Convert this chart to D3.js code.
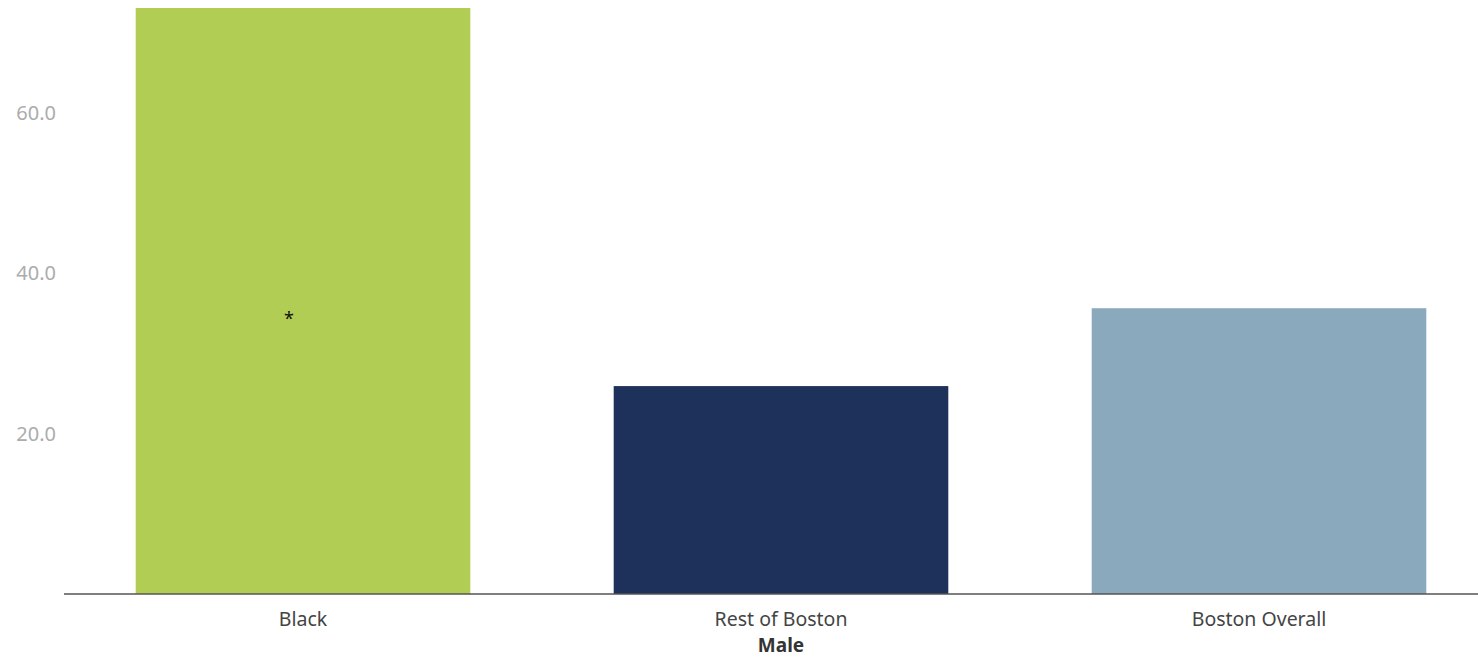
<!DOCTYPE html>
<html>
<head>
<meta charset="utf-8">
<script src="https://cdn.jsdelivr.net/npm/d3@7"></script>
<style>
  html, body { margin: 0; padding: 0; background: #fff; }
  svg { display: block; font-family: "Noto Sans", "Open Sans", sans-serif; }
</style>
</head>
<body>
<svg id="chart" width="1478" height="657"></svg>
<script>
// Male rates by group
const categories = ["Black", "Rest of Boston", "Boston Overall"];
const values = [73.0, 25.9, 35.6];
const colors = ["#b2cd53", "#1e315a", "#8ba9bd"];
const yTicks = [20, 40, 60];
const groupTitle = "Male";
const markerText = "*";
const markerValue = 34.4;

const svg = d3.select("#chart");
const W = 1478, H = 657;
const plotTop = 8, plotBottom = 594, plotLeft = 64;

const x = d3.scaleBand()
  .domain(categories)
  .range([plotLeft, 1498])
  .paddingInner(0.3)
  .paddingOuter(0.15);

const y = d3.scaleLinear()
  .domain([0, 73])
  .range([plotBottom, plotTop]);

// bars
svg.append("g").selectAll("rect")
  .data(categories)
  .join("rect")
  .attr("x", d => x(d))
  .attr("width", x.bandwidth())
  .attr("y", (d, i) => y(values[i]))
  .attr("height", (d, i) => y(0) - y(values[i]))
  .attr("fill", (d, i) => colors[i]);

// significance marker on the first bar
svg.append("text")
  .attr("x", x(categories[0]) + x.bandwidth() / 2 - 14)
  .attr("y", y(markerValue) + 7)
  .attr("text-anchor", "middle")
  .attr("font-size", 18)
  .attr("fill", "#111")
  .text(markerText);

// y axis labels only
const yAxis = d3.axisLeft(y).tickValues(yTicks).tickFormat(d3.format(".1f")).tickSize(0).tickPadding(0);
const gy = svg.append("g").attr("transform", "translate(56,0)").call(yAxis);
gy.select(".domain").remove();
gy.selectAll("text")
  .attr("font-size", 20)
  .attr("font-family", "\"Noto Sans\", sans-serif")
  .attr("fill", "#acacac")
  .attr("dy", "0.35em");

// x axis
const xAxis = d3.axisBottom(x).tickSize(0).tickPadding(18);
const gx = svg.append("g").attr("transform", `translate(0,${plotBottom})`).call(xAxis);
gx.select(".domain").remove();
gx.selectAll("text")
  .attr("font-size", 19.5)
  .attr("font-family", "\"Noto Sans\", sans-serif")
  .attr("fill", "#444");

svg.append("line")
  .attr("x1", plotLeft).attr("x2", W)
  .attr("y1", plotBottom).attr("y2", plotBottom)
  .attr("stroke", "#555").attr("stroke-width", 1.5);

// group title
svg.append("text")
  .attr("x", (plotLeft + 1498) / 2)
  .attr("y", 652)
  .attr("text-anchor", "middle")
  .attr("font-size", 19)
  .attr("font-weight", "bold")
  .attr("fill", "#333")
  .text(groupTitle);
</script>
</body>
</html>
